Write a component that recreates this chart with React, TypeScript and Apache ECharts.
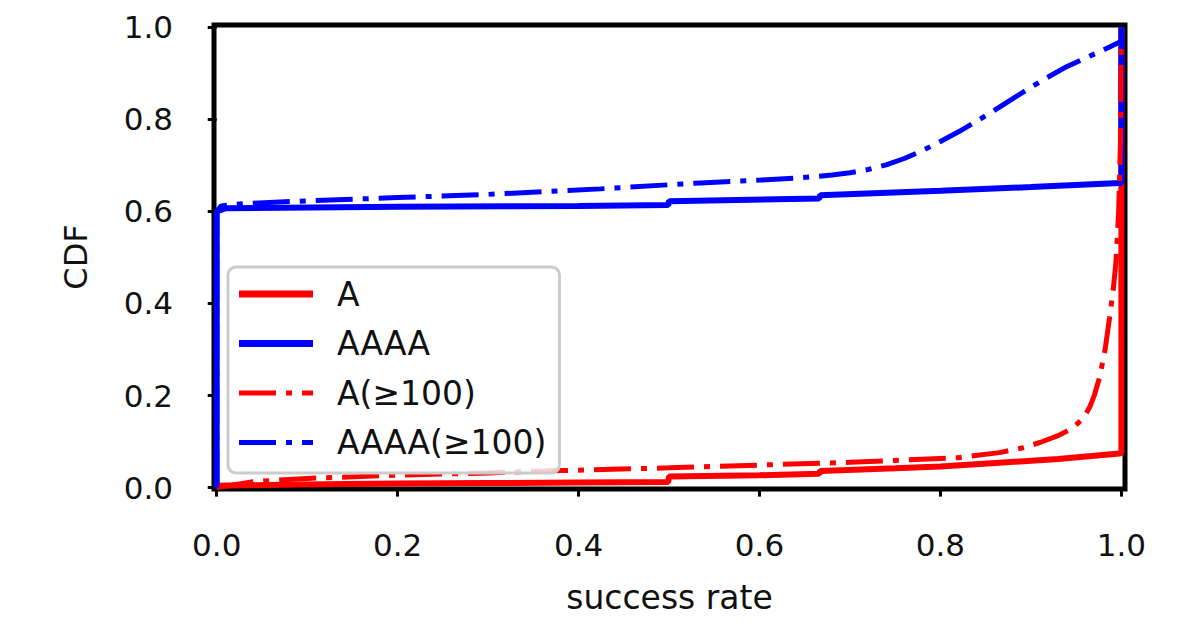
import React, { useEffect, useRef } from "react";
import * as echarts from "echarts";

const tickValues = [0, 0.2, 0.4, 0.6, 0.8, 1.0];

const seriesNames = ["A", "AAAA", "A(≥100)", "AAAA(≥100)"];

// A (red solid)
const aX = [0, 0.09, 0.2, 0.3, 0.4, 0.499, 0.5, 0.6, 0.666, 0.667, 0.75, 0.8, 0.865, 0.93, 0.998, 1.0, 1.0];
const aY = [0.004, 0.007, 0.009, 0.01, 0.011, 0.012, 0.024, 0.027, 0.03, 0.036, 0.042, 0.046, 0.054, 0.062, 0.074, 0.076, 1.0];

// AAAA (blue solid)
const aaaaX = [0, 0, 0.01, 0.2, 0.4, 0.499, 0.5, 0.666, 0.667, 0.8, 0.9, 0.998, 1.0, 1.0];
const aaaaY = [0, 0.6, 0.607, 0.61, 0.612, 0.614, 0.622, 0.628, 0.635, 0.645, 0.653, 0.662, 0.662, 1.0];

// A(>=100) (red dash-dot)
const a100X = [0, 0.04, 0.1, 0.2, 0.3, 0.38, 0.5, 0.6, 0.7, 0.82, 0.865, 0.89, 0.91, 0.93, 0.943, 0.952, 0.959, 0.965, 0.97, 0.976, 0.982, 0.987, 0.991, 0.994, 0.997, 0.999, 1.0];
const a100Y = [0, 0.013, 0.02, 0.027, 0.032, 0.037, 0.043, 0.049, 0.055, 0.065, 0.076, 0.086, 0.098, 0.113, 0.126, 0.14, 0.154, 0.175, 0.2, 0.24, 0.3, 0.37, 0.43, 0.49, 0.6, 0.75, 1.0];

// AAAA(>=100) (blue dash-dot)
const aaaa100X = [0, 0, 0.005, 0.03, 0.1, 0.2, 0.3, 0.424, 0.535, 0.6, 0.645, 0.68, 0.7, 0.72, 0.74, 0.76, 0.78, 0.8, 0.82, 0.84, 0.86, 0.88, 0.9, 0.92, 0.94, 0.96, 0.976, 0.992, 1.0, 1.0];
const aaaa100Y = [0, 0.6, 0.612, 0.617, 0.623, 0.63, 0.637, 0.649, 0.662, 0.668, 0.673, 0.679, 0.684, 0.691, 0.701, 0.715, 0.732, 0.752, 0.773, 0.796, 0.82, 0.845, 0.87, 0.893, 0.915, 0.933, 0.947, 0.962, 0.97, 1.0];

const zip = (xs: number[], ys: number[]) => xs.map((x, i) => [x, ys[i]]);

const FONT = "DejaVu Sans";
const DASHDOT = [37, 10, 6, 10];
const ICON_SOLID = "path://M0 0h74v7h-74z";
const ICON_DASHDOT = "path://M0 1h37v5h-37z M47 1h6v5h-6z M63 1h11v5h-11z M0 0h0.01v7h-0.01z";

export default function App() {
  const ref = useRef<HTMLDivElement>(null);
  useEffect(() => {
    const chart = echarts.init(ref.current!, null, { renderer: "svg" });
    const mk = (name: string, xs: number[], ys: number[], color: string, dash: boolean) => ({
      name,
      type: "line",
      data: zip(xs, ys),
      symbol: "none",
      showSymbol: false,
      smooth: false,
      clip: false,
      lineStyle: { color, width: dash ? 5 : 6, type: dash ? DASHDOT : "solid", cap: "butt" },
      itemStyle: { color },
    });
    chart.setOption({
      animation: false,
      backgroundColor: "#ffffff",
      textStyle: { fontFamily: FONT },
      grid: {
        left: 214,
        top: 25,
        width: 911,
        height: 464,
        show: true,
        borderColor: "#000",
        borderWidth: 5,
        backgroundColor: "transparent",
      },
      legend: {
        orient: "vertical",
        left: 228,
        top: 267,
        data: [
          { name: seriesNames[0], icon: ICON_SOLID },
          { name: seriesNames[1], icon: ICON_SOLID },
          { name: seriesNames[2], icon: ICON_DASHDOT },
          { name: seriesNames[3], icon: ICON_DASHDOT },
        ],
        itemWidth: 74,
        itemHeight: 7,
        itemGap: 16.5,
        padding: [10.5, 13, 14, 11],
        borderColor: "#cccccc",
        borderWidth: 3,
        borderRadius: 8,
        backgroundColor: "rgba(255,255,255,0.8)",
        textStyle: { fontFamily: FONT, fontSize: 33, color: "#111", padding: [0, 0, 0, 19] },
      },
      xAxis: {
        type: "value",
        min: -0.003,
        max: 1.004,
        name: "success rate",
        nameLocation: "middle",
        nameGap: 92,
        nameTextStyle: { fontFamily: FONT, fontSize: 33, color: "#111" },
        axisLine: { show: false },
        splitLine: { show: false },
        axisTick: { show: true, length: 9, customValues: tickValues, lineStyle: { color: "#000", width: 3 } },
        axisLabel: {
          customValues: tickValues,
          margin: 40,
          fontFamily: FONT,
          fontSize: 31,
          color: "#111",
          formatter: (v: number) => v.toFixed(1),
        },
      },
      yAxis: {
        type: "value",
        min: -0.003,
        max: 1.005,
        name: "CDF",
        nameLocation: "middle",
        nameGap: 122,
        nameTextStyle: { fontFamily: FONT, fontSize: 32, color: "#111" },
        axisLine: { show: false },
        splitLine: { show: false },
        axisTick: { show: true, length: 9, customValues: tickValues, lineStyle: { color: "#000", width: 3 } },
        axisLabel: {
          customValues: tickValues,
          margin: 41,
          fontFamily: FONT,
          fontSize: 31,
          color: "#111",
          formatter: (v: number) => v.toFixed(1),
        },
      },
      series: [
        mk(seriesNames[0], aX, aY, "#ff0000", false),
        mk(seriesNames[1], aaaaX, aaaaY, "#0000ff", false),
        mk(seriesNames[2], a100X, a100Y, "#ff0000", true),
        mk(seriesNames[3], aaaa100X, aaaa100Y, "#0000ff", true),
      ],
    });
    return () => chart.dispose();
  }, []);
  return (
    <div
      ref={ref}
      style={{ position: "fixed", left: 0, top: 0, width: 1200, height: 630, background: "#fff" }}
    />
  );
}
